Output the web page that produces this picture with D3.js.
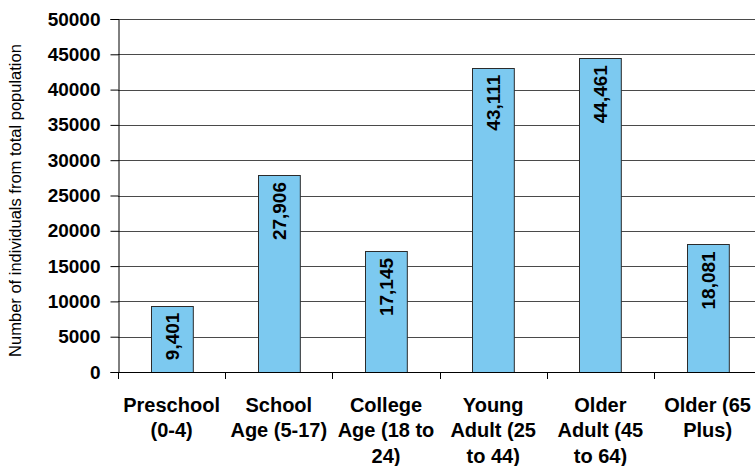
<!DOCTYPE html>
<html>
<head>
<meta charset="utf-8">
<script src="https://cdn.jsdelivr.net/npm/d3@7"></script>
<style>
  html, body { margin: 0; padding: 0; background: #fff; }
  svg { display: block; font-family: "Liberation Sans", Arial, sans-serif; }
</style>
</head>
<body>
<svg id="chart" width="755" height="466"></svg>
<script>
// Population by age group
const categories = [
  ["Preschool", "(0-4)"],
  ["School", "Age (5-17)"],
  ["College", "Age (18 to", "24)"],
  ["Young", "Adult (25", "to 44)"],
  ["Older", "Adult (45", "to 64)"],
  ["Older (65", "Plus)"]
];
const values = [9401, 27906, 17145, 43111, 44461, 18081];
const yTicks = [0, 5000, 10000, 15000, 20000, 25000, 30000, 35000, 40000, 45000, 50000];
const yTitle = "Number of individuals from total population";

const svg = d3.select("#chart");
const plotLeft = 118, plotTop = 19, plotBottom = 372, step = 107.2;
const plotRight = plotLeft + step * categories.length;

const x = d3.scaleBand()
  .domain(d3.range(categories.length))
  .range([plotLeft, plotRight])
  .paddingInner(0.61)
  .paddingOuter(0.305);

const y = d3.scaleLinear().domain([0, 50000]).range([plotBottom, plotTop]);

// gridlines
svg.append("g")
  .selectAll("line")
  .data(yTicks.filter(d => d > 0))
  .join("line")
  .attr("x1", plotLeft).attr("x2", plotRight)
  .attr("y1", d => Math.round(y(d)) + 0.5).attr("y2", d => Math.round(y(d)) + 0.5)
  .attr("stroke", "#4a4a4a").attr("stroke-width", 1);

// bars
svg.append("g")
  .selectAll("rect")
  .data(values)
  .join("rect")
  .attr("x", (d, i) => Math.round(x(i)) + 0.5)
  .attr("y", d => Math.round(y(d)) + 0.5)
  .attr("width", x.bandwidth())
  .attr("height", d => plotBottom - Math.round(y(d)))
  .attr("fill", "#7cc9f0")
  .attr("stroke", "#2b2b2b")
  .attr("stroke-width", 1);

// value labels, rotated inside top of bars
const fmt = d3.format(",");
svg.append("g")
  .selectAll("text")
  .data(values)
  .join("text")
  .attr("transform", (d, i) => `translate(${x(i) + x.bandwidth() / 2 + 7},${y(d) + 7}) rotate(-90)`)
  .attr("text-anchor", "end")
  .attr("font-size", 19)
  .attr("font-weight", "bold")
  .attr("fill", "#000")
  .text(d => fmt(d));

// y axis
const yAxis = d3.axisLeft(y).tickValues(yTicks).tickSize(8).tickPadding(10).tickFormat(d3.format("d"));
const gy = svg.append("g").attr("transform", `translate(${plotLeft + 0.5},0)`).call(yAxis);
gy.select(".domain").attr("stroke", "#000");
gy.selectAll(".tick line").attr("stroke", "#000");
gy.selectAll(".tick text")
  .attr("font-size", 19).attr("font-weight", "bold")
  .attr("font-family", "Liberation Sans, Arial, sans-serif").attr("fill", "#000");

// x axis line with tick marks at category boundaries
svg.append("line")
  .attr("x1", plotLeft).attr("x2", plotRight)
  .attr("y1", plotBottom + 0.5).attr("y2", plotBottom + 0.5)
  .attr("stroke", "#000");
svg.append("g")
  .selectAll("line")
  .data(d3.range(categories.length + 1))
  .join("line")
  .attr("x1", i => Math.round(plotLeft + step * i) + 0.5)
  .attr("x2", i => Math.round(plotLeft + step * i) + 0.5)
  .attr("y1", plotBottom).attr("y2", plotBottom + 7)
  .attr("stroke", "#000");

// category labels
svg.append("g")
  .selectAll("text")
  .data(categories)
  .join("text")
  .attr("x", (d, i) => x(i) + x.bandwidth() / 2)
  .attr("y", 411.5)
  .attr("text-anchor", "middle")
  .attr("font-size", 20)
  .attr("font-weight", "bold")
  .attr("fill", "#000")
  .each(function(d) {
    const cx = d3.select(this).attr("x");
    d3.select(this).selectAll("tspan")
      .data(d)
      .join("tspan")
      .attr("x", cx)
      .attr("dy", (t, j) => j === 0 ? 0 : 25.5)
      .text(t => t);
  });

// y axis title
svg.append("text")
  .attr("transform", `translate(21,${(plotTop + plotBottom) / 2 + 5}) rotate(-90)`)
  .attr("text-anchor", "middle")
  .attr("font-size", 16.5)
  .attr("fill", "#000")
  .text(yTitle);
</script>
</body>
</html>
